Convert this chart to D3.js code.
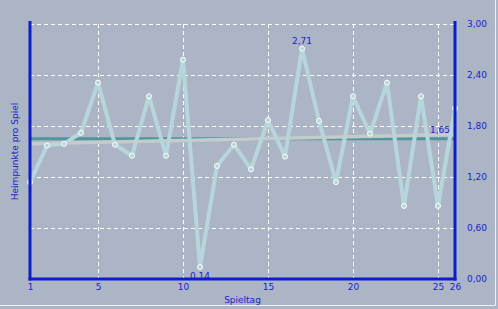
<!DOCTYPE html>
<html>
<head>
<meta charset="utf-8">
<script src="https://cdn.jsdelivr.net/npm/d3@7"></script>
<style>
  body { margin: 0; background: #acb5c5; }
  svg { display: block; }
  text { font-family: "DejaVu Sans", sans-serif; fill: #1a22cc; }
</style>
</head>
<body>
<div class="container"></div>
<script>
// Spieltag 1..26, Heimpunkte pro Spiel
const games = d3.range(1, 27)
const points = [1.14, 1.57, 1.59, 1.72, 2.31, 1.58, 1.45, 2.15, 1.45, 2.58,
                0.14, 1.33, 1.58, 1.29, 1.87, 1.44, 2.71, 1.86, 1.14, 2.15,
                1.71, 2.31, 0.86, 2.15, 0.86, 2.01]
const average = 1.65
const trend = [1.59, 1.70]   // start / end of trend line
const xTicks = [1, 5, 10, 15, 20, 25, 26]
const yTicks = [0, 0.6, 1.2, 1.8, 2.4, 3.0]

const width = 498, height = 309
const margin = { top: 24, right: 43, bottom: 30, left: 30 }

const x = d3.scaleLinear()
    .domain([1, 26])
    .range([margin.left, width - margin.right])

const y = d3.scaleLinear()
    .domain([0, 3])
    .range([height - margin.bottom, margin.top])

const fmt = v => d3.format(".2f")(v).replace(".", ",")

const svg = d3.select(".container").append("svg")
    .attr("width", width)
    .attr("height", height)

// frame
svg.append("line").attr("x1", 495.5).attr("x2", 495.5).attr("y1", 0).attr("y2", 305.5)
    .attr("stroke", "#eef0f4")
svg.append("line").attr("x1", 0).attr("x2", 495.5).attr("y1", 305.5).attr("y2", 305.5)
    .attr("stroke", "#eef0f4")

// grid
svg.append("g")
    .attr("stroke", "#ffffff")
    .attr("stroke-dasharray", "4,3")
    .selectAll("line")
    .data(yTicks.filter(d => d > 0))
    .join("line")
    .attr("x1", x(1)).attr("x2", x(26))
    .attr("y1", d => Math.round(y(d)) + 0.5).attr("y2", d => Math.round(y(d)) + 0.5)

svg.append("g")
    .attr("stroke", "#ffffff")
    .attr("stroke-dasharray", "4,3")
    .selectAll("line")
    .data([5, 10, 15, 20, 25])
    .join("line")
    .attr("x1", d => Math.round(x(d)) + 0.5).attr("x2", d => Math.round(x(d)) + 0.5)
    .attr("y1", y(3)).attr("y2", y(0))

// average + trend
svg.append("line")
    .attr("x1", x(1)).attr("x2", x(26))
    .attr("y1", y(average)).attr("y2", y(average))
    .attr("stroke", "#4f979b").attr("stroke-width", 3)

svg.append("line")
    .attr("x1", x(1)).attr("x2", x(26))
    .attr("y1", y(trend[0])).attr("y2", y(trend[1]))
    .attr("stroke", "#c4cccb").attr("stroke-width", 3.5)

// data line
const line = d3.line()
    .x((d, i) => x(games[i]))
    .y(d => y(d))

svg.append("path")
    .datum(points)
    .attr("fill", "none")
    .attr("stroke", "#b6d6db")
    .attr("stroke-width", 4)
    .attr("stroke-linejoin", "round")
    .attr("d", line)

svg.append("g")
    .selectAll("circle")
    .data(points)
    .join("circle")
    .attr("cx", (d, i) => x(games[i]))
    .attr("cy", d => y(d))
    .attr("r", 2.5)
    .attr("fill", "#b6d6db")
    .attr("stroke", "#ffffff")
    .attr("stroke-width", 1)

// axes
const yAxis = g => g
    .attr("transform", `translate(${x(26)},0)`)
    .call(d3.axisRight(y).tickValues(yTicks).tickSize(0).tickPadding(12).tickFormat(fmt))
    .call(g => g.select(".domain").remove())
    .call(g => g.selectAll("text").attr("font-size", 9).attr("fill", "#1a22cc"))

const xAxis = g => g
    .attr("transform", `translate(0,${y(0)})`)
    .call(d3.axisBottom(x).tickValues(xTicks).tickSize(0).tickPadding(5).tickFormat(d3.format("d")))
    .call(g => g.select(".domain").remove())
    .call(g => g.selectAll("text").attr("font-size", 9).attr("fill", "#1a22cc"))

svg.append("g").call(yAxis)
svg.append("g").call(xAxis)

svg.append("g")
    .attr("stroke", "#0c1ec8")
    .attr("stroke-width", 3)
    .call(g => g.append("line").attr("x1", x(1)).attr("x2", x(1)).attr("y1", y(3) - 3).attr("y2", y(0) + 1.5))
    .call(g => g.append("line").attr("x1", x(26)).attr("x2", x(26)).attr("y1", y(3) - 3).attr("y2", y(0) + 1.5))
    .call(g => g.append("line").attr("x1", x(1) - 1.5).attr("x2", x(26) + 1.5).attr("y1", y(0)).attr("y2", y(0)))

// value labels
const maxI = d3.maxIndex(points), minI = d3.minIndex(points)
svg.append("text")
    .attr("x", x(games[maxI])).attr("y", y(points[maxI]) - 5)
    .attr("text-anchor", "middle").attr("font-size", 9)
    .text(fmt(points[maxI]))
svg.append("text")
    .attr("x", x(games[minI])).attr("y", y(points[minI]) + 12)
    .attr("text-anchor", "middle").attr("font-size", 9)
    .text(fmt(points[minI]))
svg.append("text")
    .attr("x", x(26) - 5).attr("y", y(average) - 6)
    .attr("text-anchor", "end").attr("font-size", 9)
    .text(fmt(average))

// titles
svg.append("text")
    .attr("x", (x(1) + x(26)) / 2).attr("y", 303)
    .attr("text-anchor", "middle").attr("font-size", 9)
    .text("Spieltag")

svg.append("text")
    .attr("transform", `translate(18,${(y(0) + y(3)) / 2}) rotate(-90)`)
    .attr("text-anchor", "middle").attr("font-size", 9)
    .text("Heimpunkte pro Spiel")
</script>
</body>
</html>
